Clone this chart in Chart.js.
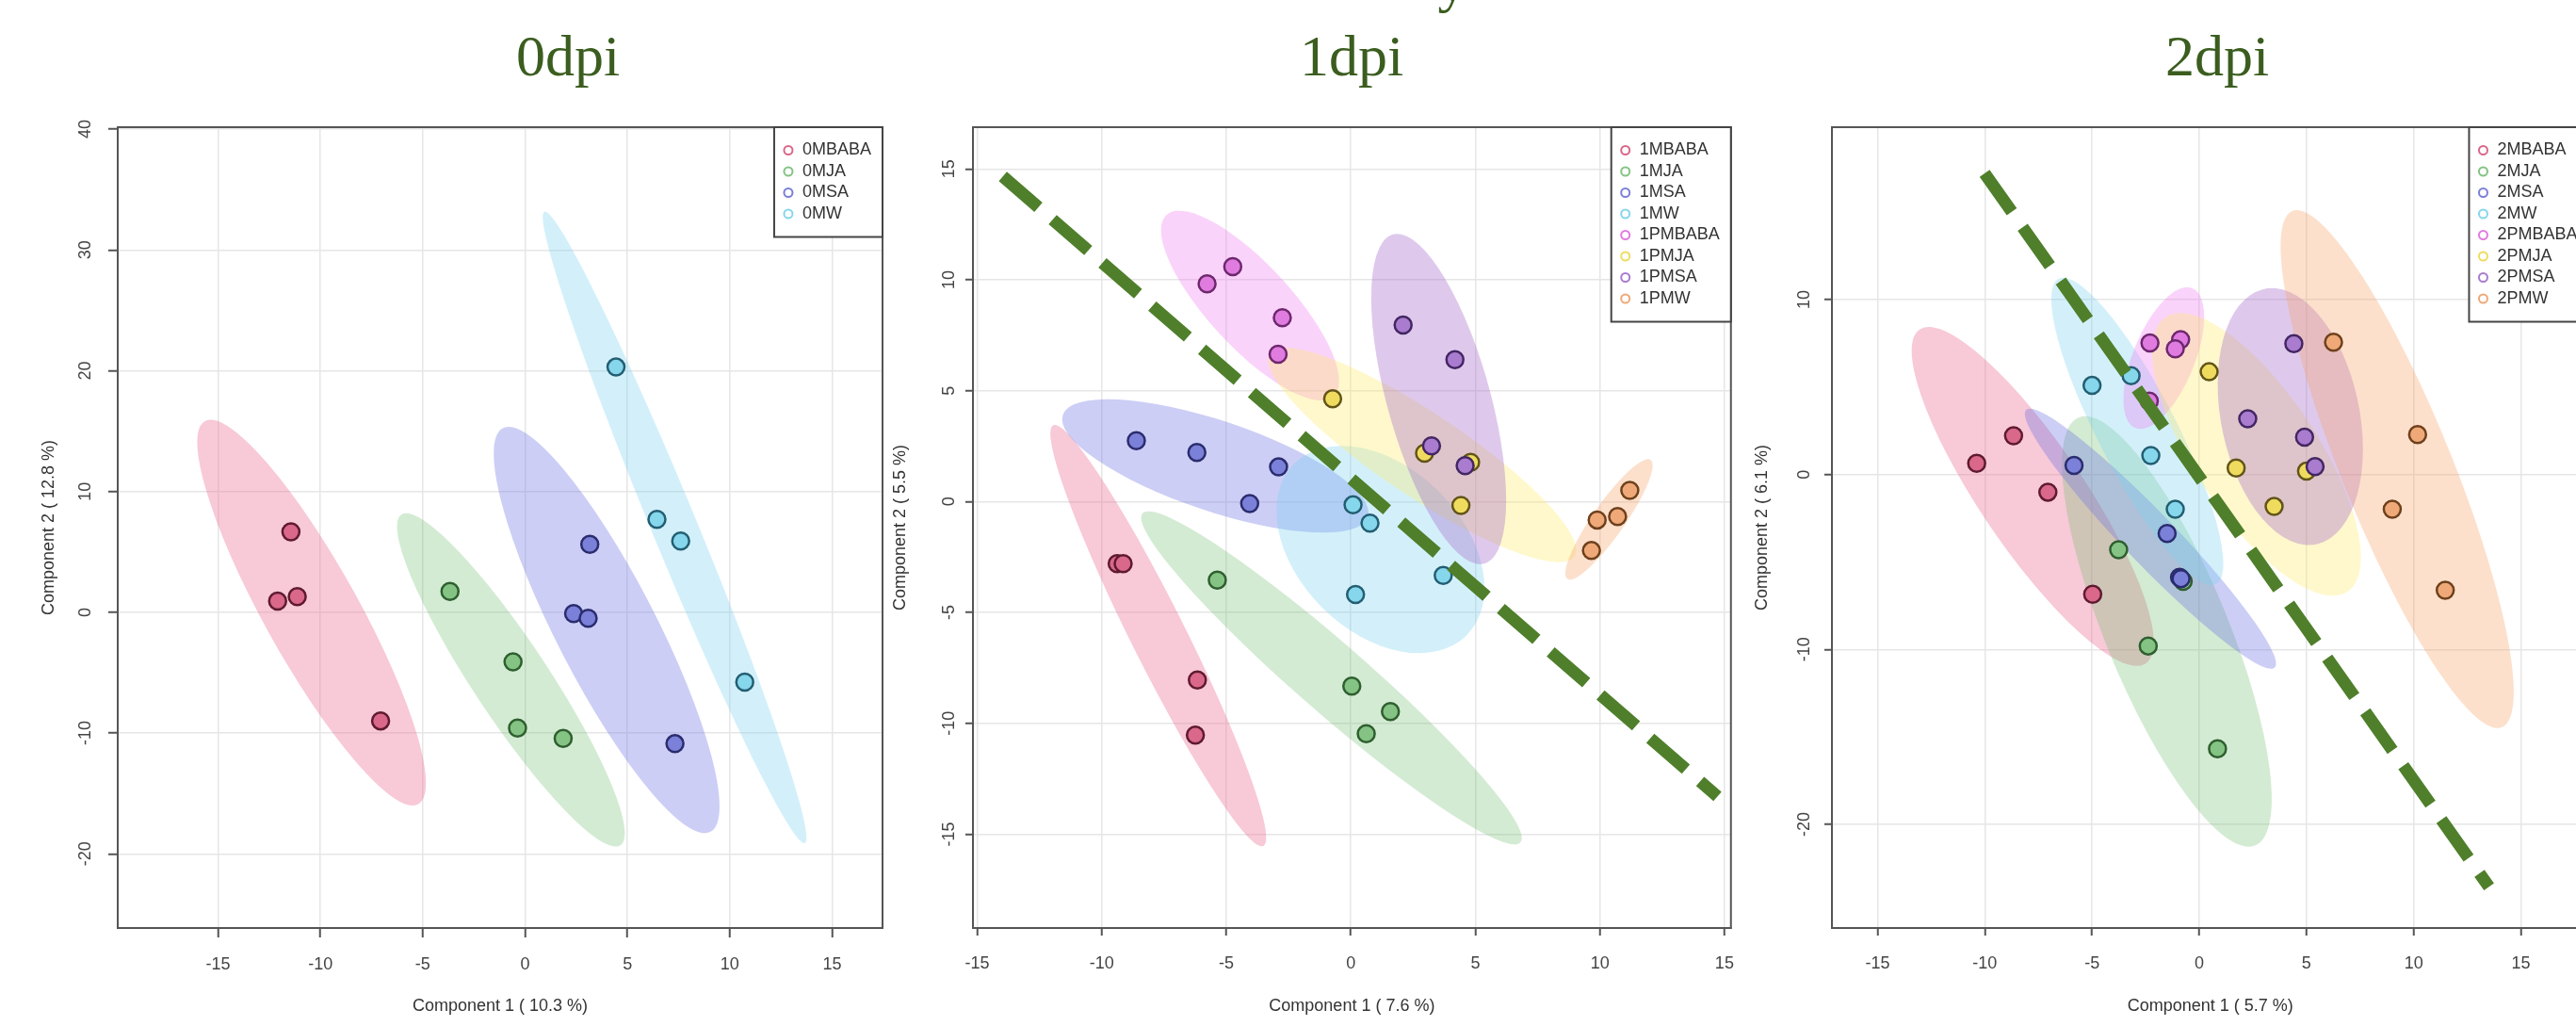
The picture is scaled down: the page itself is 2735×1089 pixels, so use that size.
<!DOCTYPE html>
<html>
<head>
<meta charset="utf-8">
<script src="https://cdn.jsdelivr.net/npm/chart.js@4.4.1/dist/chart.umd.min.js"></script>
<style>
  html, body { margin: 0; padding: 0; background: #fff; }
  #page { position: relative; width: 2735px; height: 1089px; overflow: hidden; background: #fff; }
  canvas { position: absolute; top: 0; }
  .ttl { position: absolute; top: 28px; font-family: "Liberation Serif", "DejaVu Serif", serif; font-size: 62px; line-height: 62px; color: #3b5d1f; white-space: nowrap; transform: translateX(-50%); }
</style>
</head>
<body>
<div id="page">
  <canvas id="c0" width="960" height="1089" style="left:0px"></canvas>
  <canvas id="c1" width="930" height="1089" style="left:930px"></canvas>
  <canvas id="c2" width="900" height="1089" style="left:1860px"></canvas>
  <div class="ttl" style="left:1542px; top:-51px;">y</div>
  <div class="ttl" style="left:603px;">0dpi</div>
  <div class="ttl" style="left:1435px;">1dpi</div>
  <div class="ttl" style="left:2354px;">2dpi</div>
</div>
<script>
// ---- data ----
var dpi0Groups = ["0MBABA", "0MJA", "0MSA", "0MW"];
var dpi0X = [
  [-11.44, -12.09, -11.13, -7.06],
  [-3.67, -0.59, -0.37, 1.86],
  [3.16, 2.37, 3.08, 7.32],
  [4.44, 6.44, 7.60, 10.73]
];
var dpi0Y = [
  [6.66, 0.92, 1.30, -8.99],
  [1.73, -4.11, -9.58, -10.45],
  [5.63, -0.11, -0.49, -10.88],
  [20.3, 7.69, 5.90, -5.79]
];

var dpi1Groups = ["1MBABA", "1MJA", "1MSA", "1MW", "1PMBABA", "1PMJA", "1PMSA", "1PMW"];
var dpi1X = [
  [-9.38, -9.14, -6.16, -6.24],
  [-5.36, 0.04, 1.59, 0.62],
  [-8.61, -6.18, -2.90, -4.06],
  [0.09, 0.77, 0.19, 3.71],
  [-5.77, -4.74, -2.75, -2.92],
  [-0.73, 2.96, 4.42, 4.81],
  [2.10, 4.18, 3.24, 4.59],
  [9.89, 10.71, 11.20, 9.66]
];
var dpi1Y = [
  [-2.80, -2.80, -8.05, -10.53],
  [-3.54, -8.32, -9.47, -10.47],
  [2.74, 2.21, 1.56, -0.09],
  [-0.15, -0.97, -4.19, -3.33],
  [9.82, 10.59, 8.29, 6.64],
  [4.63, 2.18, -0.18, 1.77],
  [7.96, 6.40, 2.51, 1.62],
  [-0.83, -0.68, 0.50, -2.21]
];
var dpi1CutX = [-13.97, 14.72];
var dpi1CutY = [14.66, -13.30];

var dpi2Groups = ["2MBABA", "2MJA", "2MSA", "2MW", "2PMBABA", "2PMJA", "2PMSA", "2PMW"];
var dpi2X = [
  [-10.38, -8.66, -7.06, -4.97],
  [-3.76, -2.38, 0.85, -0.75],
  [-5.84, -1.50, -0.92, -0.85],
  [-5.00, -2.26, -1.12, -3.18],
  [-2.30, -0.87, -1.12, -2.33],
  [0.46, 1.72, 3.49, 5.00],
  [4.41, 2.26, 4.91, 5.40],
  [6.26, 10.18, 9.00, 11.47]
];
var dpi2Y = [
  [0.64, 2.21, -1.01, -6.85],
  [-4.30, -9.80, -15.68, -6.10],
  [0.52, -3.37, -5.87, -5.95],
  [5.09, 1.08, -1.98, 5.65],
  [7.52, 7.71, 7.18, 4.19],
  [5.87, 0.37, -1.83, 0.19],
  [7.48, 3.18, 2.13, 0.45],
  [7.56, 2.28, -1.98, -6.62]
];
var dpi2CutX = [-10.01, 13.51];
var dpi2CutY = [17.21, -23.57];

// ---- colours ----
var pointFill = ["#d9688a", "#84c384", "#7b80d8", "#86d6ec", "#e07ce0", "#efdc5e", "#a97ccf", "#efa978"];
var pointEdge = ["#5e1a30", "#2f5e2f", "#2a2c6e", "#235e72", "#6e286e", "#625418", "#432662", "#6e401c"];
var ellipseFill = [
  "rgba(236,100,140,0.35)", "rgba(110,190,110,0.30)", "rgba(110,115,225,0.35)", "rgba(120,210,240,0.33)",
  "rgba(240,120,240,0.33)", "rgba(255,235,100,0.33)", "rgba(160,100,200,0.35)", "rgba(245,160,100,0.33)"
];
var cutColor = "#4f7f2b";

Chart.defaults.font.family = '"Liberation Sans", Arial, sans-serif';

var R95 = Math.sqrt(-2 * Math.log(0.05)); // sqrt(qchisq(0.95, 2))

// ----------------------------- ellipses + frame -----------------------------
var ellipsePlugin = {
  id: "ellipses",
  beforeDatasetsDraw: function(chart) {
    var ctx = chart.ctx, a = chart.chartArea, xs = chart.scales.x, ys = chart.scales.y;
    var kx = xs.getPixelForValue(1) - xs.getPixelForValue(0);
    var ky = ys.getPixelForValue(1) - ys.getPixelForValue(0);
    ctx.save();
    ctx.beginPath();
    ctx.rect(a.left, a.top, a.right - a.left, a.bottom - a.top);
    ctx.clip();
    chart.data.datasets.forEach(function(ds) {
      if (!ds.ellipseColor) return;
      var pts = ds.data, n = pts.length, mx = 0, my = 0;
      pts.forEach(function(p) { mx += p.x; my += p.y; });
      mx /= n; my /= n;
      var sxx = 0, syy = 0, sxy = 0;
      pts.forEach(function(p) {
        var dx = p.x - mx, dy = p.y - my;
        sxx += dx * dx; syy += dy * dy; sxy += dx * dy;
      });
      sxx /= (n - 1); syy /= (n - 1); sxy /= (n - 1);
      var l11 = Math.sqrt(sxx), l21 = sxy / l11, l22 = Math.sqrt(Math.max(syy - l21 * l21, 0));
      ctx.save();
      ctx.transform(kx * R95 * l11, ky * R95 * l21, 0, ky * R95 * l22, xs.getPixelForValue(mx), ys.getPixelForValue(my));
      ctx.beginPath();
      ctx.arc(0, 0, 1, 0, Math.PI * 2);
      ctx.restore();
      ctx.fillStyle = ds.ellipseColor;
      ctx.fill();
    });
    ctx.restore();
  },
  afterDatasetsDraw: function(chart) {
    var ctx = chart.ctx, a = chart.chartArea;
    ctx.save();
    ctx.strokeStyle = "#555";
    ctx.lineWidth = 2;
    ctx.strokeRect(a.left, a.top, a.right - a.left, a.bottom - a.top);
    ctx.restore();
  }
};

// ----------------------------- boxed legend -----------------------------
var legendPlugin = {
  id: "boxLegend",
  afterDraw: function(chart) {
    var ctx = chart.ctx, a = chart.chartArea;
    var items = chart.data.datasets.filter(function(d) { return d.legendColor; });
    ctx.save();
    ctx.font = '18px "Liberation Sans", Arial, sans-serif';
    var tw = 0;
    items.forEach(function(d) { tw = Math.max(tw, ctx.measureText(d.label).width); });
    var rowH = 22.5, pad = 24.5;
    var w = 30 + tw + 12, h = pad * 2 + rowH * (items.length - 1);
    var bx = a.right - w, by = a.top;
    ctx.fillStyle = "#fff";
    ctx.fillRect(bx, by, w, h);
    ctx.strokeStyle = "#444";
    ctx.lineWidth = 2;
    ctx.strokeRect(bx, by, w, h);
    ctx.textBaseline = "middle";
    ctx.textAlign = "left";
    items.forEach(function(d, i) {
      var cy = by + pad + i * rowH;
      ctx.beginPath();
      ctx.arc(bx + 15, cy, 4.5, 0, Math.PI * 2);
      ctx.strokeStyle = d.legendColor;
      ctx.lineWidth = 2;
      ctx.stroke();
      ctx.fillStyle = "#333";
      ctx.fillText(d.label, bx + 30, cy);
    });
    ctx.restore();
  }
};

function makePanel(id, p) {
  var datasets = p.groups.map(function(g, i) {
    return {
      type: "scatter",
      label: g,
      data: p.xs[i].map(function(v, j) { return {x: v, y: p.ys[i][j]}; }),
      backgroundColor: pointFill[i],
      borderColor: pointEdge[i],
      borderWidth: 2.5,
      pointRadius: 9,
      ellipseColor: ellipseFill[i],
      legendColor: pointFill[i],
      order: 20 - i
    };
  });
  if (p.cutX) {
    datasets.push({
      type: "line",
      label: "cut",
      data: p.cutX.map(function(v, j) { return {x: v, y: p.cutY[j]}; }),
      borderColor: cutColor,
      borderWidth: 13,
      borderDash: [50, 20],
      pointRadius: 0,
      fill: false,
      order: 0
    });
  }
  new Chart(id, {
    type: "scatter",
    data: {datasets: datasets},
    plugins: [ellipsePlugin, legendPlugin],
    options: {
      responsive: false,
      animation: false,
      events: [],
      layout: {padding: {left: 0, top: 135, right: p.padRight, bottom: 0}},
      plugins: {legend: {display: false}, tooltip: {enabled: false}},
      scales: {
        x: {
          type: "linear", min: p.xMin, max: p.xMax,
          ticks: {stepSize: 5, includeBounds: false, color: "#444", font: {size: 18}, padding: p.xTickPad},
          grid: {color: "#e6e6e6", lineWidth: 1.5, tickLength: p.tickLen, tickColor: "#555", tickWidth: 2},
          border: {color: "#555", width: 2},
          title: {display: true, text: p.xTitle, color: "#333", font: {size: 18}, padding: {top: 0, bottom: 10}},
          afterFit: function(s) { s.height = 104; }
        },
        y: {
          type: "linear", min: p.yMin, max: p.yMax,
          ticks: {stepSize: p.yStep, includeBounds: false, color: "#444", font: {size: 18},
                  minRotation: 90, maxRotation: 90, crossAlign: "center", padding: p.yTickPad},
          grid: {color: "#e6e6e6", lineWidth: 1.5, tickLength: p.tickLen, tickColor: "#555", tickWidth: 2},
          border: {color: "#555", width: 2},
          title: {display: true, text: p.yTitle, color: "#333", font: {size: 18}, padding: {top: p.yTitlePad, bottom: 0}},
          afterFit: function(s) { s.width = p.yWidth; }
        }
      }
    }
  });
}

// ----------------------------- 0dpi -----------------------------
makePanel("c0", {
  groups: dpi0Groups, xs: dpi0X, ys: dpi0Y,
  xMin: -19.9, xMax: 17.46, yMin: -26.14, yMax: 40.16, yStep: 10,
  xTitle: "Component 1 ( 10.3 %)", yTitle: "Component 2 ( 12.8 %)",
  yWidth: 125, padRight: 23, tickLen: 10, xTickPad: 18, yTickPad: 11, yTitlePad: 41
});
// ----------------------------- 1dpi -----------------------------
makePanel("c1", {
  groups: dpi1Groups, xs: dpi1X, ys: dpi1Y, cutX: dpi1CutX, cutY: dpi1CutY,
  xMin: -15.17, xMax: 15.26, yMin: -19.23, yMax: 16.88, yStep: 5,
  xTitle: "Component 1 ( 7.6 %)", yTitle: "Component 2 ( 5.5 %)",
  yWidth: 103, padRight: 13, tickLen: 8, xTickPad: 19, yTickPad: 4, yTitlePad: 15
});
// ----------------------------- 2dpi -----------------------------
makePanel("c2", {
  groups: dpi2Groups, xs: dpi2X, ys: dpi2Y, cutX: dpi2CutX, cutY: dpi2CutY,
  xMin: -17.13, xMax: 18.16, yMin: -25.92, yMax: 19.85, yStep: 10,
  xTitle: "Component 1 ( 5.7 %)", yTitle: "Component 2 ( 6.1 %)",
  yWidth: 85, padRight: 3, tickLen: 8, xTickPad: 19, yTickPad: 8, yTitlePad: 0
});
</script>
</body>
</html>
